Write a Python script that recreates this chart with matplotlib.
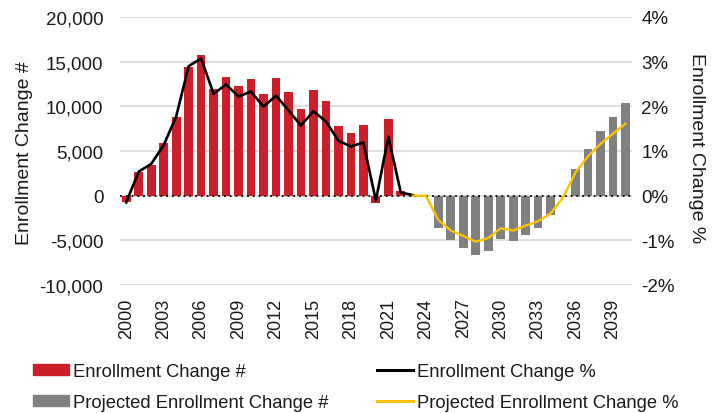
import matplotlib
matplotlib.use("Agg")
import matplotlib.pyplot as plt
from matplotlib.ticker import FuncFormatter, MultipleLocator
from matplotlib.patches import Patch
from matplotlib.lines import Line2D

plt.rcParams['font.family'] = ['Liberation Sans', 'DejaVu Sans']

# ---- data ----
actual_years = list(range(2000, 2024))
actual_change = [-700, 2600, 3400, 5900, 8800, 14400, 15700, 11900, 13300, 12300,
                 13100, 11400, 13200, 11600, 9700, 11800, 10600, 7800, 7000, 7900,
                 -800, 8600, 500, 0]
actual_pct = [-0.15, 0.54, 0.71, 1.13, 1.77, 2.90, 3.07, 2.28, 2.49, 2.22,
              2.33, 1.99, 2.24, 1.91, 1.57, 1.89, 1.66, 1.23, 1.10, 1.19,
              -0.11, 1.32, 0.07, 0.01]

proj_bar_years = list(range(2024, 2041))
proj_change = [0, -3660, -4960, -5860, -6640, -6160, -4810, -5110, -4440, -3660,
               -2200, -100, 3020, 5260, 7240, 8810, 10370]
proj_pct_years = list(range(2023, 2041))
proj_pct = [0.0, 0.0, -0.54, -0.78, -0.90, -1.03, -0.95, -0.73, -0.78, -0.67,
            -0.57, -0.40, -0.04, 0.52, 0.88, 1.16, 1.39, 1.61]

tick_years = list(range(2000, 2041, 3))

labels = ["Enrollment Change #", "Projected Enrollment Change #",
          "Enrollment Change %", "Projected Enrollment Change %"]

RED = "#CC1F2A"
GRAY = "#808080"
BLACK = "#000000"
YELLOW = "#FFC000"
TXT = "#1a1a1a"

W, H = 722, 414
fig = plt.figure(figsize=(W / 100, H / 100), dpi=100)
left, right, top, bottom = 120, 631.7, 18, 286
ax = fig.add_axes([left / W, 1 - bottom / H, (right - left) / W, (bottom - top) / H])

ax.bar(actual_years, actual_change, width=0.7, color=RED, zorder=2)
ax.bar(proj_bar_years, proj_change, width=0.7, color=GRAY, zorder=2)
ax.set_xlim(1999.5, 2040.5)
ax.set_ylim(-10000, 20000)
ax.yaxis.set_major_locator(MultipleLocator(5000))
ax.yaxis.set_major_formatter(FuncFormatter(lambda v, p: "{:,.0f}".format(v)))
ax.grid(axis='y', color="#D9D9D9", linewidth=1.2, zorder=0)
ax.set_axisbelow(True)
ax.axhline(0, color=BLACK, linestyle=(0, (1, 2.2)), linewidth=1.3, zorder=3)
ax.set_xticks(tick_years)
ax.set_xticklabels([str(y) for y in tick_years], rotation=90)
ax.tick_params(axis='x', length=0, pad=9, labelsize=13, labelcolor=TXT)
ax.tick_params(axis='y', length=0, pad=12, labelsize=13.5, labelcolor=TXT)
for s in ax.spines.values():
    s.set_visible(False)

ax2 = ax.twinx()
ax2.plot(actual_years, actual_pct, color=BLACK, linewidth=1.9, zorder=4)
ax2.plot(proj_pct_years, proj_pct, color=YELLOW, linewidth=1.7, zorder=4)
ax2.set_ylim(-2, 4)
ax2.yaxis.set_major_locator(MultipleLocator(1))
ax2.yaxis.set_major_formatter(FuncFormatter(lambda v, p: "{:.0f}%".format(v)))
ax2.tick_params(axis='y', length=0, pad=7, labelsize=13.5, labelcolor=TXT)
for s in ax2.spines.values():
    s.set_visible(False)

fig.text(24.5 / W, 1 - 153.5 / H, "Enrollment Change #", rotation=90,
         ha='center', va='center', fontsize=14, color=TXT)
fig.text(696 / W, 1 - 148 / H, "Enrollment Change %", rotation=270,
         ha='center', va='center', fontsize=14, color=TXT)

handles = [Patch(color=RED), Patch(color=GRAY),
           Line2D([], [], color=BLACK, linewidth=2.2),
           Line2D([], [], color=YELLOW, linewidth=2.2)]
fig.legend(handles, labels, ncol=2, loc='upper left',
           bbox_to_anchor=(32.7 / W, 1 - 364 / H), frameon=False,
           fontsize=13.2, labelcolor=TXT, borderpad=0, borderaxespad=0,
           handlelength=2.0, handleheight=0.55, handletextpad=0.22,
           columnspacing=2.6, labelspacing=0.78)

fig.savefig("out.png", dpi=100)
